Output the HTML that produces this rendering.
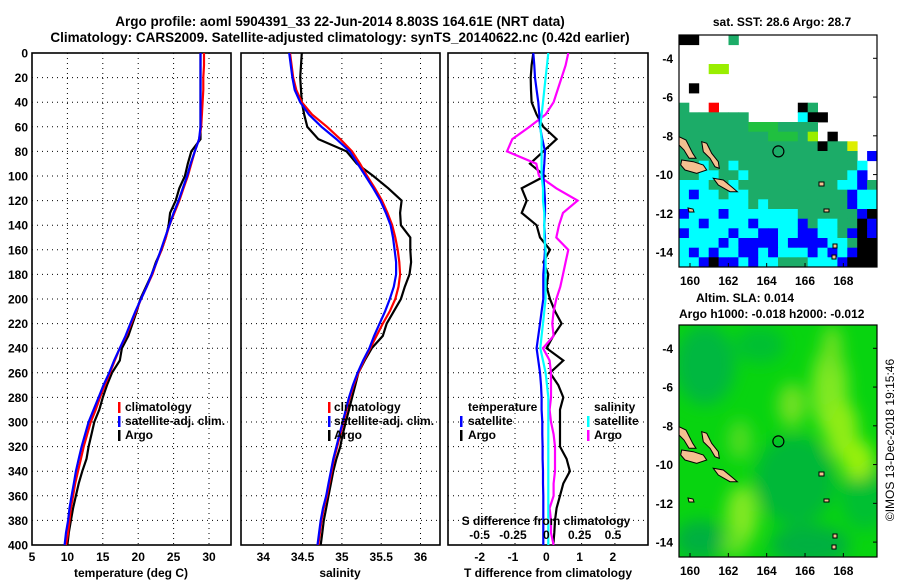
<!DOCTYPE html>
<html><head><meta charset="utf-8"><style>
html,body{margin:0;padding:0;background:#fff;}
svg{display:block;font-family:"Liberation Sans",Arial,sans-serif;font-weight:bold;}
</style></head><body>
<svg id="fig" width="900" height="580" viewBox="0 0 900 580" xmlns="http://www.w3.org/2000/svg">
<defs>
<filter id="blur" x="-20%" y="-20%" width="140%" height="140%"><feGaussianBlur stdDeviation="8"/></filter>
<clipPath id="clipM2"><rect x="679" y="325" width="198" height="232"/></clipPath>
<clipPath id="clipP1"><rect x="32" y="53" width="199" height="492"/></clipPath>
<clipPath id="clipP2"><rect x="241" y="53" width="199" height="492"/></clipPath>
<clipPath id="clipP3"><rect x="448" y="53" width="200" height="492"/></clipPath>
</defs>
<text x="340" y="26" font-size="13.5" text-anchor="middle">Argo profile: aoml 5904391_33 22-Jun-2014 8.803S 164.61E (NRT data)</text>
<text x="340" y="42" font-size="13.5" text-anchor="middle">Climatology: CARS2009. Satellite-adjusted climatology: synTS_20140622.nc (0.42d earlier)</text>
<g id="g1"></g>
<g id="g2"></g>
<g id="g3"></g>
<text x="782" y="26" font-size="12" text-anchor="middle">sat. SST: 28.6 Argo: 28.7</text>
<g id="m1"></g>
<text x="696" y="302" font-size="12">Altim. SLA: 0.014</text>
<text x="679" y="318" font-size="12">Argo h1000: -0.018 h2000: -0.012</text>
<g id="m2"></g>
<text transform="translate(894,440) rotate(-90)" font-size="12" font-weight="normal" text-anchor="middle">©IMOS 13-Dec-2018 19:15:46</text>
</svg>
<script>
// ---- data ----
const depths = [0,10,20,30,40,50,60,70,80,90,100,110,120,130,140,150,160,170,180,190,200,210,220,230,240,250,260,270,280,290,300,310,320,330,340,350,360,370,380,390,400];
const tempClim = [29.3,29.3,29.2,29.2,29.1,29.0,28.9,28.6,28.0,27.5,27.0,26.4,25.8,25.1,24.4,23.9,23.3,22.6,22.0,21.2,20.4,19.7,19.0,18.3,17.4,16.7,16.0,15.3,14.6,14.0,13.3,12.8,12.3,11.9,11.5,11.1,10.8,10.5,10.3,10.1,9.8];
const tempSat = [28.8,28.8,28.8,28.8,28.8,28.8,28.8,28.6,28.0,27.4,26.9,26.3,25.7,25.0,24.4,23.8,23.2,22.6,21.9,21.2,20.4,19.6,18.9,18.2,17.4,16.6,15.9,15.1,14.4,13.7,13.0,12.5,12.0,11.6,11.2,10.9,10.6,10.3,10.1,9.8,9.6];
const tempArgo = [28.8,28.8,28.8,28.8,28.8,28.8,28.8,28.8,27.5,27.0,26.6,25.8,25.3,24.5,24.3,23.9,23.3,22.5,21.9,21.1,20.3,19.8,19.2,18.6,17.7,17.4,16.3,15.6,15.0,14.5,13.8,13.4,13.0,12.7,12.1,11.6,11.2,10.8,10.5,10.2,10.0];
const salClim = [34.34,34.36,34.38,34.42,34.49,34.62,34.81,34.98,35.13,35.23,35.32,35.42,35.51,35.58,35.64,35.68,35.71,35.73,35.74,35.72,35.68,35.61,35.52,35.44,35.36,35.28,35.21,35.15,35.10,35.06,35.02,34.98,34.94,34.90,34.87,34.84,34.81,34.77,34.74,34.72,34.70];
const salSat = [34.33,34.35,34.37,34.40,34.47,34.58,34.74,34.93,35.10,35.20,35.30,35.40,35.49,35.56,35.62,35.65,35.67,35.69,35.69,35.66,35.61,35.55,35.48,35.41,35.35,35.27,35.20,35.14,35.09,35.05,35.01,34.97,34.93,34.89,34.86,34.83,34.80,34.76,34.73,34.71,34.69];
const salArgo = [34.49,34.48,34.47,34.48,34.49,34.52,34.56,34.70,35.06,35.19,35.40,35.59,35.76,35.74,35.75,35.87,35.87,35.88,35.86,35.80,35.75,35.66,35.57,35.52,35.38,35.29,35.21,35.17,35.13,35.09,35.05,35.01,34.98,34.93,34.89,34.86,34.83,34.80,34.77,34.75,34.73];
const dTempSat = [-0.45,-0.42,-0.40,-0.35,-0.30,-0.27,-0.25,-0.18,-0.10,-0.12,-0.15,-0.12,-0.10,-0.10,-0.12,-0.10,-0.10,-0.12,-0.15,-0.15,-0.15,-0.20,-0.25,-0.30,-0.35,-0.30,-0.25,-0.22,-0.20,-0.20,-0.18,-0.18,-0.17,-0.17,-0.16,-0.16,-0.15,-0.15,-0.15,-0.15,-0.15];
const dTempArgo = [-0.45,-0.50,-0.53,-0.52,-0.50,-0.35,-0.15,0.25,-0.15,-0.55,-0.10,-0.80,-0.65,-0.80,-0.35,-0.25,0.05,-0.15,0.00,-0.05,0.05,0.20,0.40,0.15,-0.05,0.45,0.05,0.30,0.45,0.35,0.35,0.35,0.35,0.55,0.65,0.45,0.35,0.25,0.20,0.18,0.15];
const dSalSat = [0.00,-0.01,-0.02,-0.03,-0.04,-0.05,-0.06,-0.05,-0.05,-0.05,-0.05,-0.04,-0.04,-0.03,-0.03,-0.03,-0.02,-0.02,-0.02,-0.02,-0.02,-0.03,-0.04,-0.05,-0.06,-0.04,-0.02,-0.01,0.00,0.00,0.00,0.00,0.00,0.00,0.00,0.00,0.00,0.00,0.00,0.00,0.00];
const dSalArgo = [0.15,0.13,0.10,0.07,0.04,-0.02,-0.14,-0.27,-0.31,-0.09,-0.07,0.06,0.22,0.11,0.08,0.06,0.15,0.13,0.11,0.09,0.06,0.04,0.03,0.04,-0.04,0.01,0.02,0.02,0.02,0.01,0.02,0.04,0.05,0.05,0.05,0.04,0.04,0.01,0.02,0.02,0.04];
const tempTicks = [5,10,15,20,25,30];
const salTicks = ['34','34.5','35','35.5','36'];
const dTTicks = ['-2','-1','0','1','2'];
const dSTicks = ['-0.5','-0.25','0','0.25','0.5'];
const depthTicks = [0,20,40,60,80,100,120,140,160,180,200,220,240,260,280,300,320,340,360,380,400];
const lonTicks = [160,162,164,166,168];
const latTicks = [-4,-6,-8,-10,-12,-14];
const argoLon = 164.61, argoLat = -8.803;

// ---- helpers ----
const NS = 'http://www.w3.org/2000/svg';
function mk(tag, attrs, parent, txt){ const e=document.createElementNS(NS,tag); for(const k in attrs) e.setAttribute(k,attrs[k]); if(txt!==undefined) e.textContent=txt; parent.appendChild(e); return e; }
const yD = d => 53 + d*1.23;
const xT = t => 32 + (t-5)*7.08;
const xS = s => 263.3 + (s-34)*78.6;
const xDT = v => 548.3 + v*33.3;
const xDS = v => 548.3 + v*133.3;

function frame(g, x0, x1, gridXs){
  for(const d of depthTicks){ if(d===0||d===400) continue;
    const l=mk('line',{x1:x0,x2:x1,y1:yD(d),y2:yD(d),stroke:'#000','stroke-width':1,'stroke-dasharray':'1,4'},g);
      }
  for(const gx of gridXs){
    const l=mk('line',{x1:gx,x2:gx,y1:53,y2:545,stroke:'#000','stroke-width':1,'stroke-dasharray':'1,4'},g);
      }
  const r=mk('rect',{x:x0,y:53,width:x1-x0,height:492,fill:'none',stroke:'#000','stroke-width':1.6},g);
   
}
function line(g, xs, xf, color, clip, name){
  const pts = depths.map((d,i)=>xf(xs[i]).toFixed(1)+','+yD(d).toFixed(1)).join(' ');
  const p=mk('polyline',{points:pts,fill:'none',stroke:color,'stroke-width':2.2,'clip-path':'url(#'+clip+')'},g);
   
}
function label(g,x,y,t,anchor,size,name){ const e=mk('text',{x:x,y:y,'font-size':size||12,'text-anchor':anchor||'middle'},g,t);   return e; }
function legendMark(g,x,y,color,name){ const r=mk('rect',{x:x,y:y-10,width:2.5,height:11,fill:color},g);   }

// ---- panel 1 ----
const g1=document.getElementById('g1');
frame(g1,32,231,tempTicks.filter(t=>t>5).map(xT));
for(const d of depthTicks){ label(g1,28,yD(d)+4.5,String(d),'end',12,'y-tick-label'); }
for(const t of tempTicks){ label(g1,xT(t),561,String(t),'middle',12,'x-tick-label'); }
label(g1,131,577,'temperature (deg C)','middle',12,'x-axis-title');
line(g1,tempArgo,xT,'#000','clipP1','argo-temperature-line');
line(g1,tempClim,xT,'#f00','clipP1','climatology-temperature-line');
line(g1,tempSat,xT,'#00f','clipP1','satellite-temperature-line');
legendMark(g1,118,412,'#f00','legend-climatology-mark'); label(g1,125,411,'climatology','start',12,'legend-climatology');
legendMark(g1,118,426,'#00f','legend-satellite-mark'); label(g1,125,425,'satellite-adj. clim.','start',12,'legend-satellite');
legendMark(g1,118,440,'#000','legend-argo-mark'); label(g1,125,439,'Argo','start',12,'legend-argo');

// ---- panel 2 ----
const g2=document.getElementById('g2');
frame(g2,241,440,salTicks.map(s=>xS(parseFloat(s))));
for(const s of salTicks){ label(g2,xS(parseFloat(s)),561,s,'middle',12,'x-tick-label'); }
label(g2,340,577,'salinity','middle',12,'x-axis-title');
line(g2,salArgo,xS,'#000','clipP2','argo-salinity-line');
line(g2,salClim,xS,'#f00','clipP2','climatology-salinity-line');
line(g2,salSat,xS,'#00f','clipP2','satellite-salinity-line');
legendMark(g2,328,412,'#f00','legend-climatology-mark'); label(g2,334,411,'climatology','start',12,'legend-climatology');
legendMark(g2,328,426,'#00f','legend-satellite-mark'); label(g2,334,425,'satellite-adj. clim.','start',12,'legend-satellite');
legendMark(g2,328,440,'#000','legend-argo-mark'); label(g2,334,439,'Argo','start',12,'legend-argo');

// ---- panel 3 ----
const g3=document.getElementById('g3');
frame(g3,448,648,dTTicks.map(v=>xDT(parseFloat(v))));
line(g3,dTempArgo,xDT,'#000','clipP3','argo-temp-diff-line');
line(g3,dSalArgo,xDS,'#f0f','clipP3','argo-sal-diff-line');
line(g3,dTempSat,xDT,'#00f','clipP3','satellite-temp-diff-line');
line(g3,dSalSat,xDS,'#0ff','clipP3','satellite-sal-diff-line');
for(const v of dTTicks){ label(g3,xDT(parseFloat(v))-2,561,v,'middle',12,'t-diff-tick-label'); }
for(const v of dSTicks){ label(g3,xDS(parseFloat(v))-2,539,v,'middle',12,'s-diff-tick-label'); }
label(g3,546,525,'S difference from climatology','middle',12,'s-diff-axis-title');
label(g3,548,577,'T difference from climatology','middle',12,'t-diff-axis-title');
label(g3,468,411,'temperature','start',12,'legend-temperature-heading');
legendMark(g3,460,426,'#00f','legend-temp-satellite-mark'); label(g3,468,425,'satellite','start',12,'legend-temp-satellite');
legendMark(g3,460,440,'#000','legend-temp-argo-mark'); label(g3,468,439,'Argo','start',12,'legend-temp-argo');
label(g3,594,411,'salinity','start',12,'legend-salinity-heading');
legendMark(g3,587,426,'#0ff','legend-sal-satellite-mark'); label(g3,594,425,'satellite','start',12,'legend-sal-satellite');
legendMark(g3,587,440,'#f0f','legend-sal-argo-mark'); label(g3,594,439,'Argo','start',12,'legend-sal-argo');

// ---- maps ----
const lonX = lon => 690 + (lon-160)*19.17;
const latY = (lat, top) => top + 23.3 + (-4-lat)*19.38;
const sstRows = [
"KKWWWGWWWWWWWWWWWWWW",
"WWWWWWWWWWWWWWWWWWWW",
"WWWWWWWWWWWWWWWWWWWW",
"WWWLLWWWWWWWWWWWWWWW",
"WWWWWWWWWWWWWWWWWWWW",
"WKWWWWWWWWWWWWWWWWWW",
"WWWWWWWWWWWWWWWWWWWW",
"GWWRWWWWWWWWKGWWWWWW",
"GGGGGGGWWWWWCKKWWWWW",
"GGGGGGGHHHGGGGWWWWWW",
"GGGGGGGGGHHHGLWKWWWW",
"GGGGGGGGGGGGGGKGGYWW",
"GGGGGGGGGGGGGGGGGGWB",
"GGCGGCGGGGGGGGGGGGCW",
"GGCCGGCGGGGGGGGGGCBW",
"CCCGGCGGGGGGGGGGCCBG",
"CBCCGCCGGGGGGGGGGBCC",
"CCCCCCCGCGGGGGGGGBCC",
"BCCCBCCCCCCCGGGGGGBK",
"CCBCCCCBCCCCBGCCGGKB",
"BCCCCBCCBBCCBBCCGBKB",
"CCCCBCBBBBCBBBBCCGKK",
"CBCBCCBBCBCCCBCBCBKK",
"CCBKBBCBCCGGGCCCBKKK"];
const sstColors = {W:'#ffffff',G:'#1cac68',H:'#20c040',C:'#00ffff',B:'#0000ff',K:'#000000',L:'#99ee00',Y:'#ddee00',R:'#ff0000'};
const islands = [
 [[22.7,106.7],[27.7,108.3],[32.7,118.3],[39.3,126.7],[40.3,133.3],[36,131.7],[31,123.3],[24.3,116.7]],
 [[34.3,143.3],[44.3,145],[54.3,153.3],[58.3,156.7],[51,156.7],[39.3,150]],
 [[2.7,125],[14.3,126.7],[24.3,130],[27.7,135],[17.7,138.3],[6,135],[1.7,130]],
 [[0,101.7],[7,105],[13.7,118.3],[17,123.3],[10,123.3],[5,115],[0,110]],
 [[9,173],[14,174],[15,177],[10,177]],
 [[140,147],[145,147],[145,151],[140,151]],
 [[145,174],[150,174],[150,177],[145,177]],
 [[154,209],[158,209],[158,213],[154,213]],
 [[153,220],[157,220],[157,224],[153,224]]
];
function mapAxes(g, top){
  for(const lon of lonTicks){ label(g,lonX(lon),top+250,String(lon),'middle',12,'lon-tick-label');
    const t=mk('line',{x1:lonX(lon),x2:lonX(lon),y1:top+232,y2:top+228,stroke:'#000'},g);   }
  for(const lat of latTicks){ label(g,673,latY(lat,top)+4.5,String(lat),'end',12,'lat-tick-label');
    const t=mk('line',{x1:873,x2:877,y1:latY(lat,top),y2:latY(lat,top),stroke:'#000'},g);   }
  for(const isl of islands){ const p=mk('polygon',{points:isl.map(q=>(679+q[0])+','+(top+q[1])).join(' '),fill:'#f4c090',stroke:'#000','stroke-width':1},g);
      }
  const c=mk('circle',{cx:lonX(argoLon),cy:latY(argoLat,top),r:5.5,fill:'none',stroke:'#000','stroke-width':1.2},g);
   
  const r=mk('rect',{x:679,y:top,width:198,height:232,fill:'none',stroke:'#000','stroke-width':1.2},g);
   
}
const m1=document.getElementById('m1');
const cw=198/20, ch=232/24;
sstRows.forEach((row,j)=>{ for(let i=0;i<row.length;i++){ if(row[i]==='W') continue;
  const r=mk('rect',{x:(679+i*cw).toFixed(1),y:(35+j*ch).toFixed(1),width:(cw+0.4).toFixed(1),height:(ch+0.4).toFixed(1),fill:sstColors[row[i]]},m1);
    } });
mapAxes(m1,35);

const m2=document.getElementById('m2');
const bg=mk('rect',{x:679,y:325,width:198,height:232,fill:'#08d410'},m2);  
const blobs=mk('g',{filter:'url(#blur)','clip-path':'url(#clipM2)'},m2);  
const blobList=[
 [705,365,30,40,'#00b840'],[760,345,25,18,'#00c030'],[795,480,40,45,'#00b838'],[810,545,40,20,'#00b040'],[700,540,25,20,'#00b040'],[865,495,25,35,'#00c030'],
 [830,390,18,45,'#80e820'],[842,430,16,30,'#90ec18'],[858,460,16,20,'#98f010'],[832,350,10,25,'#70e020'],[792,405,14,22,'#70e020'],
 [740,440,12,20,'#50dc20'],[742,515,16,30,'#80e820'],[735,545,14,12,'#60e020']];
for(const b of blobList){ const e=mk('ellipse',{cx:b[0],cy:b[1],rx:b[2],ry:b[3],fill:b[4]},blobs);   }
mapAxes(m2,325);
</script>
</body></html>
